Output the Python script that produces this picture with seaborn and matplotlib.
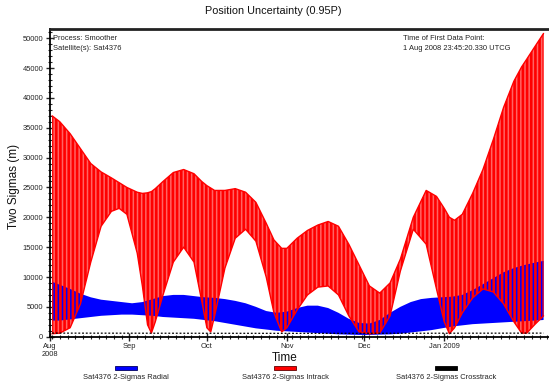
import numpy as np
import pandas as pd
import matplotlib
matplotlib.use("Agg")
import matplotlib.pyplot as plt
import matplotlib.dates as mdates
from matplotlib.patches import Rectangle
import seaborn as sns

# ---------------- data (values in metres) ----------------
start_date = "2008-08-01"

red_days = [1, 4, 8, 12, 16, 20, 24, 27, 30, 34, 36, 38, 39.5, 41, 44, 48, 52, 56, 59, 61,
            62.5, 64, 68, 72, 76, 80, 84, 87, 90, 92, 96, 100, 104, 108, 112, 116, 120, 124,
            128, 132, 136, 141, 146, 150, 153, 155, 157, 160, 164, 168, 172, 176, 180, 183,
            185, 188, 191.5]
intrack_hi = [37000, 36000, 34000, 31500, 29000, 27600, 26600, 25800, 25000, 24200, 24000,
              24100, 24300, 24800, 26000, 27500, 28000, 27300, 26000, 25300, 24900, 24500,
              24500, 24800, 24200, 22500, 19000, 16200, 14800, 14800, 16500, 17800, 18700,
              19300, 18500, 15500, 12000, 8500, 7300, 9000, 13000, 20000, 24500, 23500,
              21500, 20000, 19500, 20500, 24000, 28000, 33000, 38400, 42800, 45200, 46500,
              48500, 50800]
intrack_lo = [500, 600, 1500, 5500, 12500, 18500, 21000, 21500, 20500, 14000, 8500, 2000,
              600, 2500, 7000, 12500, 15000, 12500, 6000, 1500, 800, 3500, 11500, 16500,
              18000, 16000, 10000, 4000, 800, 1500, 4500, 7000, 8300, 8500, 7000, 3500, 800,
              500, 600, 3500, 11000, 18000, 15500, 8000, 2500, 500, 1500, 4000, 6500, 8000,
              7500, 5500, 2500, 600, 600, 2000, 3500]

blue_days = [1, 4, 8, 12, 16, 20, 24, 28, 32, 36, 40, 44, 48, 52, 56, 60, 64, 68, 72, 76,
             80, 84, 88, 92, 96, 100, 104, 108, 112, 116, 120, 124, 128, 132, 136, 140, 144,
             148, 152, 156, 160, 164, 168, 172, 176, 180, 184, 188, 191.5]
radial_hi = [9200, 8700, 8000, 7200, 6600, 6200, 6000, 5800, 5600, 5800, 6300, 6800, 7000,
             7000, 6800, 6600, 6500, 6300, 6000, 5600, 5000, 4300, 4000, 4200, 4800, 5200,
             5200, 4800, 4000, 3000, 2300, 2200, 2800, 4000, 5000, 5800, 6300, 6500, 6600,
             6700, 7000, 7800, 8800, 9800, 10800, 11500, 12000, 12400, 12700]
radial_lo = [2700, 2700, 2900, 3100, 3300, 3500, 3600, 3700, 3700, 3600, 3500, 3300, 3200,
             3100, 3000, 2800, 2600, 2300, 2000, 1700, 1400, 1200, 1000, 900, 800, 700, 600,
             500, 400, 350, 300, 300, 350, 400, 500, 700, 900, 1100, 1400, 1700, 1900, 2100,
             2200, 2300, 2400, 2500, 2600, 2700, 2800]

cross_days = [1, 48, 96, 144, 191.5]
crosstrack = [600, 580, 560, 580, 600]

series_names = ["Sat4376 2-Sigmas Radial", "Sat4376 2-Sigmas Intrack",
                "Sat4376 2-Sigmas Crosstrack"]
month_labels = ["Aug\n2008", "Sep", "Oct", "Nov", "Dec", "Jan 2009"]

# ---------------- build frames ----------------
t0 = pd.Timestamp(start_date)
red = pd.DataFrame({"t": t0 + pd.to_timedelta(red_days, unit="D"),
                    "hi": intrack_hi, "lo": intrack_lo})
blue = pd.DataFrame({"t": t0 + pd.to_timedelta(blue_days, unit="D"),
                     "hi": radial_hi, "lo": radial_lo})
cross = pd.DataFrame({"t": t0 + pd.to_timedelta(cross_days, unit="D"), "v": crosstrack})

# ---------------- figure ----------------
sns.set_style("white")
plt.rcParams["font.family"] = ["Liberation Sans", "DejaVu Sans"]
plt.rcParams["hatch.linewidth"] = 1.9

W, H = 549, 387
fig = plt.figure(figsize=(W / 100, H / 100), dpi=100)
x0, x1, ytop, ybot = 49.5, 553, 29, 336.7
ax = fig.add_axes([x0 / W, 1 - ybot / H, (x1 - x0) / W, (ybot - ytop) / H])

# intrack pink band with red vertical stripes
ax.fill_between(red["t"], red["lo"], red["hi"], facecolor="#ff6464", edgecolor="none",
                linewidth=0, zorder=1)
# radial blue band
ax.fill_between(blue["t"], blue["lo"], blue["hi"], facecolor="#0000ff", edgecolor="none",
                linewidth=0, zorder=2)
ax.fill_between(red["t"], red["lo"], red["hi"], facecolor="none", edgecolor="#ff0000",
                hatch="||||", linewidth=0, zorder=3)
sns.lineplot(data=red, x="t", y="hi", color="#ff0000", lw=1.0, ax=ax, zorder=4)
sns.lineplot(data=red, x="t", y="lo", color="#ff0000", lw=1.0, ax=ax, zorder=4)
sns.lineplot(data=cross, x="t", y="v", color="black", lw=0.9, ax=ax, zorder=5,
             linestyle=(0, (1.5, 1.5)))

ax.set_xlim(t0, t0 + pd.Timedelta(days=(x1 - x0) / 2.58))
ax.set_ylim(0, (ybot - ytop) / 5.97 * 1000)

ax.yaxis.set_major_locator(matplotlib.ticker.MultipleLocator(5000))
ax.yaxis.set_minor_locator(matplotlib.ticker.MultipleLocator(1000))
ax.set_yticks(np.arange(0, 50001, 5000))
ax.set_yticklabels([str(v) for v in range(0, 50001, 5000)])

month_ticks = pd.date_range("2008-08-01", periods=6, freq="MS")
ax.set_xticks(month_ticks)
ax.set_xticklabels(month_labels)
ax.xaxis.set_minor_locator(mdates.DayLocator(interval=3))

ax.tick_params(axis="both", which="major", direction="inout", length=6, width=1,
               labelsize=5.4, labelcolor="#222222", pad=1.5)
ax.tick_params(axis="both", which="minor", direction="inout", length=3, width=0.8)
ax.tick_params(axis="x", which="both", bottom=True)
ax.tick_params(axis="y", which="both", left=True)

for s in ["left", "bottom"]:
    ax.spines[s].set_linewidth(1.3)
    ax.spines[s].set_color("black")
ax.spines["top"].set_linewidth(2)
ax.spines["top"].set_color("#222222")
ax.spines["right"].set_visible(False)

ax.set_xlabel("")
ax.set_ylabel("")
fig.text(14 / W, 1 - 186 / H, "Two Sigmas (m)", rotation=90, ha="center", va="center",
         fontsize=8.5, color="#111111")
fig.text(285 / W, 1 - 358 / H, "Time", ha="center", va="center", fontsize=8.5,
         color="#111111")
fig.text(273 / W, 1 - 11 / H, "Position Uncertainty (0.95P)", ha="center", va="center",
         fontsize=7.8, color="#111111")

# annotations inside axes
fig.text(53 / W, 1 - 38.5 / H, "Process: Smoother", ha="left", va="center", fontsize=5.4,
         color="#222222")
fig.text(53 / W, 1 - 48 / H, "Satellite(s): Sat4376", ha="left", va="center", fontsize=5.4,
         color="#222222")
fig.text(403 / W, 1 - 38.5 / H, "Time of First Data Point:", ha="left", va="center",
         fontsize=5.4, color="#222222")
fig.text(403 / W, 1 - 48 / H, "1 Aug 2008 23:45:20.330 UTCG", ha="left", va="center",
         fontsize=5.4, color="#222222")

# legend: handle above label
leg_centers = [126, 285, 446]
leg_face = ["#0000ff", "#ff0000", "#000000"]
leg_edge = ["#000060", "#600000", "#000000"]
for cx, name, fc, ec in zip(leg_centers, series_names, leg_face, leg_edge):
    fig.add_artist(Rectangle(((cx - 11) / W, 1 - 370 / H), 22 / W, 4 / H,
                             facecolor=fc, edgecolor=ec, linewidth=0.6,
                             transform=fig.transFigure))
    fig.text(cx / W, 1 - 377.5 / H, name, ha="center", va="center", fontsize=5.4,
             color="#222222")

fig.savefig("out.png", dpi=100)
